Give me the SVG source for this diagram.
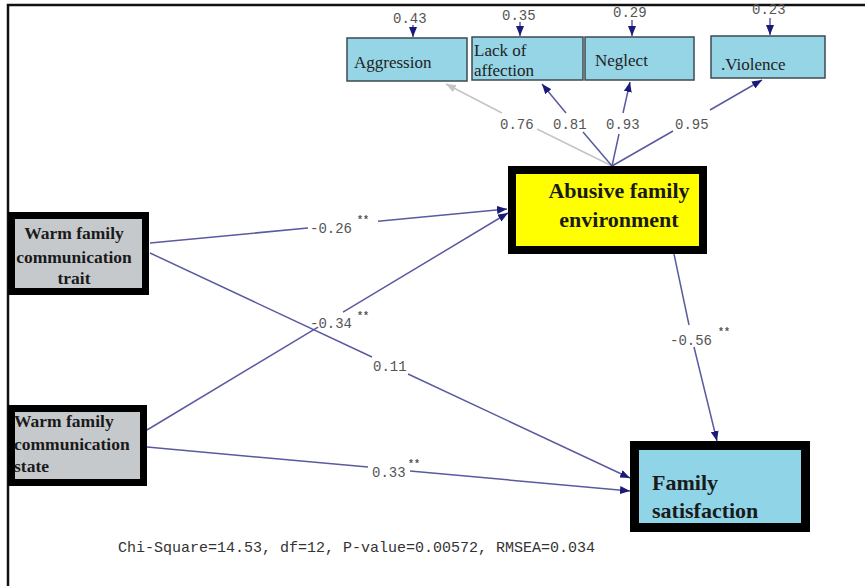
<svg xmlns="http://www.w3.org/2000/svg" width="865" height="586" viewBox="0 0 865 586">
<style>
.conn{fill:none;stroke:#5a5aa0;stroke-width:1.5}
.gray{fill:none;stroke:#c4c4c4;stroke-width:1.5}
.obs{fill:#95d5e6;stroke:#3c4a50;stroke-width:1.5}
.obst{font-family:"Liberation Serif",serif;font-size:17px;fill:#222}
.coef{font-family:"Liberation Mono",monospace;font-size:14px;fill:#555}
.star{font-family:"Liberation Mono",monospace;font-size:10px;font-weight:bold;fill:#555}
.lat{font-family:"Liberation Serif",serif;font-weight:bold;fill:#1a1a1a}
</style>
<defs>
<marker id="ah" viewBox="0 0 10 8" refX="10" refY="4" markerWidth="10" markerHeight="8" orient="auto" markerUnits="userSpaceOnUse"><path d="M0,0 L10,4 L0,8 z" fill="#1a1a78"/></marker>
<marker id="ahg" viewBox="0 0 10 8" refX="10" refY="4" markerWidth="10" markerHeight="8" orient="auto" markerUnits="userSpaceOnUse"><path d="M0,0 L10,4 L0,8 z" fill="#c4c4c4"/></marker>
</defs>
<rect width="865" height="586" fill="#fff"/>
<path d="M8,586 V5 H865" fill="none" stroke="#111" stroke-width="2.5"/>

<g id="connectors">
<path class="gray" d="M612,166 L537,129 M502,113 L446,84" marker-end="url(#ahg)"/>
<path class="conn" d="M612,166 L583,132 M566,113 L542,84" marker-end="url(#ah)"/>
<path class="conn" d="M612,166 L619,134 M623,113 L630,82" marker-end="url(#ah)"/>
<path class="conn" d="M612,166 L673,131 M710,110 L762,80" marker-end="url(#ah)"/>
<path class="conn" d="M413,25 L413,37" marker-end="url(#ah)"/>
<path class="conn" d="M520,22 L520,36" marker-end="url(#ah)"/>
<path class="conn" d="M632,20 L632,36" marker-end="url(#ah)"/>
<path class="conn" d="M770,18 L770,35" marker-end="url(#ah)"/>
<path class="conn" d="M150,243 L308,228 M378,221.3 L507,209" marker-end="url(#ah)"/>
<path class="conn" d="M147,430 L318,327.2 M343,312.2 L508,213" marker-end="url(#ah)"/>
<path class="conn" d="M150,253 L372,357 M408,374 L630,478" marker-end="url(#ah)"/>
<path class="conn" d="M147,447 L368,467.1 M410,471 L630,491" marker-end="url(#ah)"/>
<path class="conn" d="M674,254 L689,325 M694,347 L717,441" marker-end="url(#ah)"/>
</g>

<g id="labels">
<text class="coef" x="393" y="23">0.43</text>
<text class="coef" x="502" y="20">0.35</text>
<text class="coef" x="613" y="17">0.29</text>
<text class="coef" x="752" y="14">0.23</text>
<text class="coef" x="500" y="129">0.76</text>
<text class="coef" x="553" y="129">0.81</text>
<text class="coef" x="606" y="129">0.93</text>
<text class="coef" x="675" y="129">0.95</text>
<text class="coef" x="310" y="233">-0.26</text><text class="star" x="357" y="223">**</text>
<text class="coef" x="310" y="328">-0.34</text><text class="star" x="357" y="319">**</text>
<text class="coef" x="373" y="371">0.11</text>
<text class="coef" x="372" y="477">0.33</text><text class="star" x="408" y="467">**</text>
<text class="coef" x="670" y="345">-0.56</text><text class="star" x="718" y="335">**</text>
<text x="118" y="552" font-family="Liberation Mono, monospace" font-size="15" fill="#333">Chi-Square=14.53, df=12, P-value=0.00572, RMSEA=0.034</text>
</g>

<g id="aggression">
<rect class="obs" x="347" y="38" width="120" height="43"/>
<text class="obst" x="354" y="68">Aggression</text>
</g>
<g id="lack-of-affection">
<rect class="obs" x="472" y="37" width="111" height="43"/>
<text class="obst" x="474" y="56">Lack of</text>
<text class="obst" x="474" y="76">affection</text>
</g>
<g id="neglect">
<rect class="obs" x="585" y="37" width="109" height="43"/>
<text class="obst" x="595" y="66">Neglect</text>
</g>
<g id="violence">
<rect class="obs" x="711" y="36" width="114" height="42"/>
<text class="obst" x="721" y="70">.Violence</text>
</g>

<g id="abusive-family-environment">
<rect x="512" y="170" width="191" height="80" fill="#ffff00" stroke="#000" stroke-width="8"/>
<text class="lat" x="619" y="198" font-size="22" text-anchor="middle">Abusive family</text>
<text class="lat" x="619" y="227" font-size="22" text-anchor="middle">environment</text>
</g>

<g id="warm-family-communication-trait">
<rect x="11.5" y="215.5" width="134" height="76" fill="#c6c9cc" stroke="#000" stroke-width="7"/>
<text class="lat" x="74" y="239" font-size="17.5" text-anchor="middle">Warm family</text>
<text class="lat" x="74" y="263" font-size="17.5" text-anchor="middle">communication</text>
<text class="lat" x="74" y="284" font-size="17.5" text-anchor="middle">trait</text>
</g>

<g id="warm-family-communication-state">
<rect x="11.5" y="408.5" width="132" height="74" fill="#c6c9cc" stroke="#000" stroke-width="7"/>
<text class="lat" x="14" y="427" font-size="17.5">Warm family</text>
<text class="lat" x="14" y="450" font-size="17.5">communication</text>
<text class="lat" x="14" y="472" font-size="17.5">state</text>
</g>

<g id="family-satisfaction">
<rect x="634.5" y="445.5" width="171" height="82" fill="#90d4e8" stroke="#000" stroke-width="9"/>
<text class="lat" x="652" y="490" font-size="22">Family</text>
<text class="lat" x="652" y="518" font-size="22">satisfaction</text>
</g>
</svg>
